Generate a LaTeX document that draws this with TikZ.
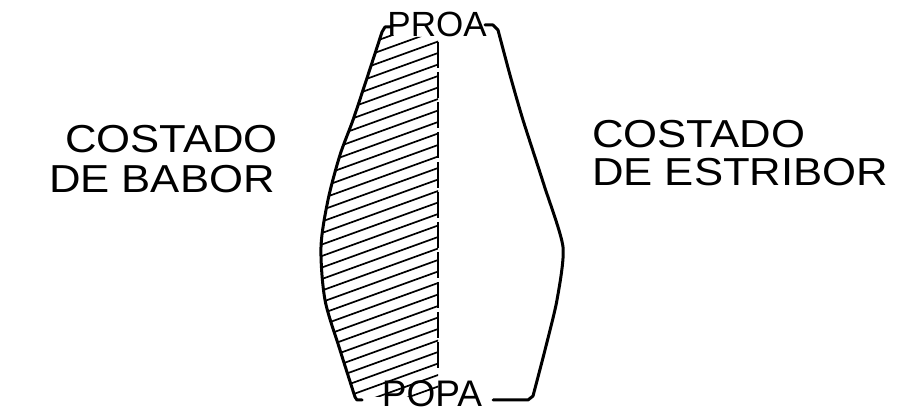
\documentclass[tikz,border=0pt]{standalone}
\usepackage{fontspec}
\setmainfont{Liberation Sans}
\begin{document}
\begin{tikzpicture}[x=1pt,y=-1pt,
  hull/.style={line width=3pt, line join=round, line cap=round},
  hatchline/.style={line width=1.7pt},
  sidelabel/.style={font=\fontsize{39}{40}\selectfont, inner sep=0pt, xscale=1.12},
  endlabel/.style={font=\fontsize{35}{36}\selectfont, inner sep=0pt}]
\useasboundingbox (0,0) rectangle (898,419);
\fill[white] (0,0) rectangle (898,419);

% hatched port half
\begin{scope}
  \clip plot[smooth, tension=0.5] coordinates {(382,32) (368,75) (353,120) (340,155) (328,200) (321,247) (325,300) (340,350) (355,397)}
        -- (438,397) -- (438,37) -- (400,37) -- cycle;
  \foreach \k in {0,...,40}{
    \draw[hatchline] (315,{40+11.5*\k}) -- (445,{40+11.5*\k-47});
  }
\end{scope}

% centre line
\draw[line width=2.6pt, dash pattern=on 26pt off 4pt] (438,42) -- (438,370);

% port side of the hull
\draw[hull] (392,27) -- (385,27) -- (382,32)
  plot[smooth, tension=0.5] coordinates {(382,32) (368,75) (353,120) (340,155) (328,200) (321,247) (325,300) (340,350) (355,397)}
  -- (357,400) -- (362,400);

% starboard side of the hull
\draw[hull] (485,25) -- (493,25) -- (498,30)
  plot[smooth, tension=0.4] coordinates {(498,30) (510,75) (523,120) (544,185) (563,247) (557,300) (545,350) (533,396)}
  -- (528,400) -- (493,400);

% bow and stern labels
\node[endlabel, anchor=base] (proa) at (437,37) {PROA};
\node[endlabel, font=\fontsize{37}{38}\selectfont, anchor=base] (popa) at (432,407) {POPA};

% side labels
\node[sidelabel, anchor=base east] (babor1) at (278,153) {COSTADO};
\node[sidelabel, anchor=base east] (babor2) at (275,193) {DE BABOR};
\node[sidelabel, anchor=base west] (estribor1) at (592,148) {COSTADO};
\node[sidelabel, anchor=base west] (estribor2) at (592,186) {DE ESTRIBOR};
\end{tikzpicture}
\end{document}
